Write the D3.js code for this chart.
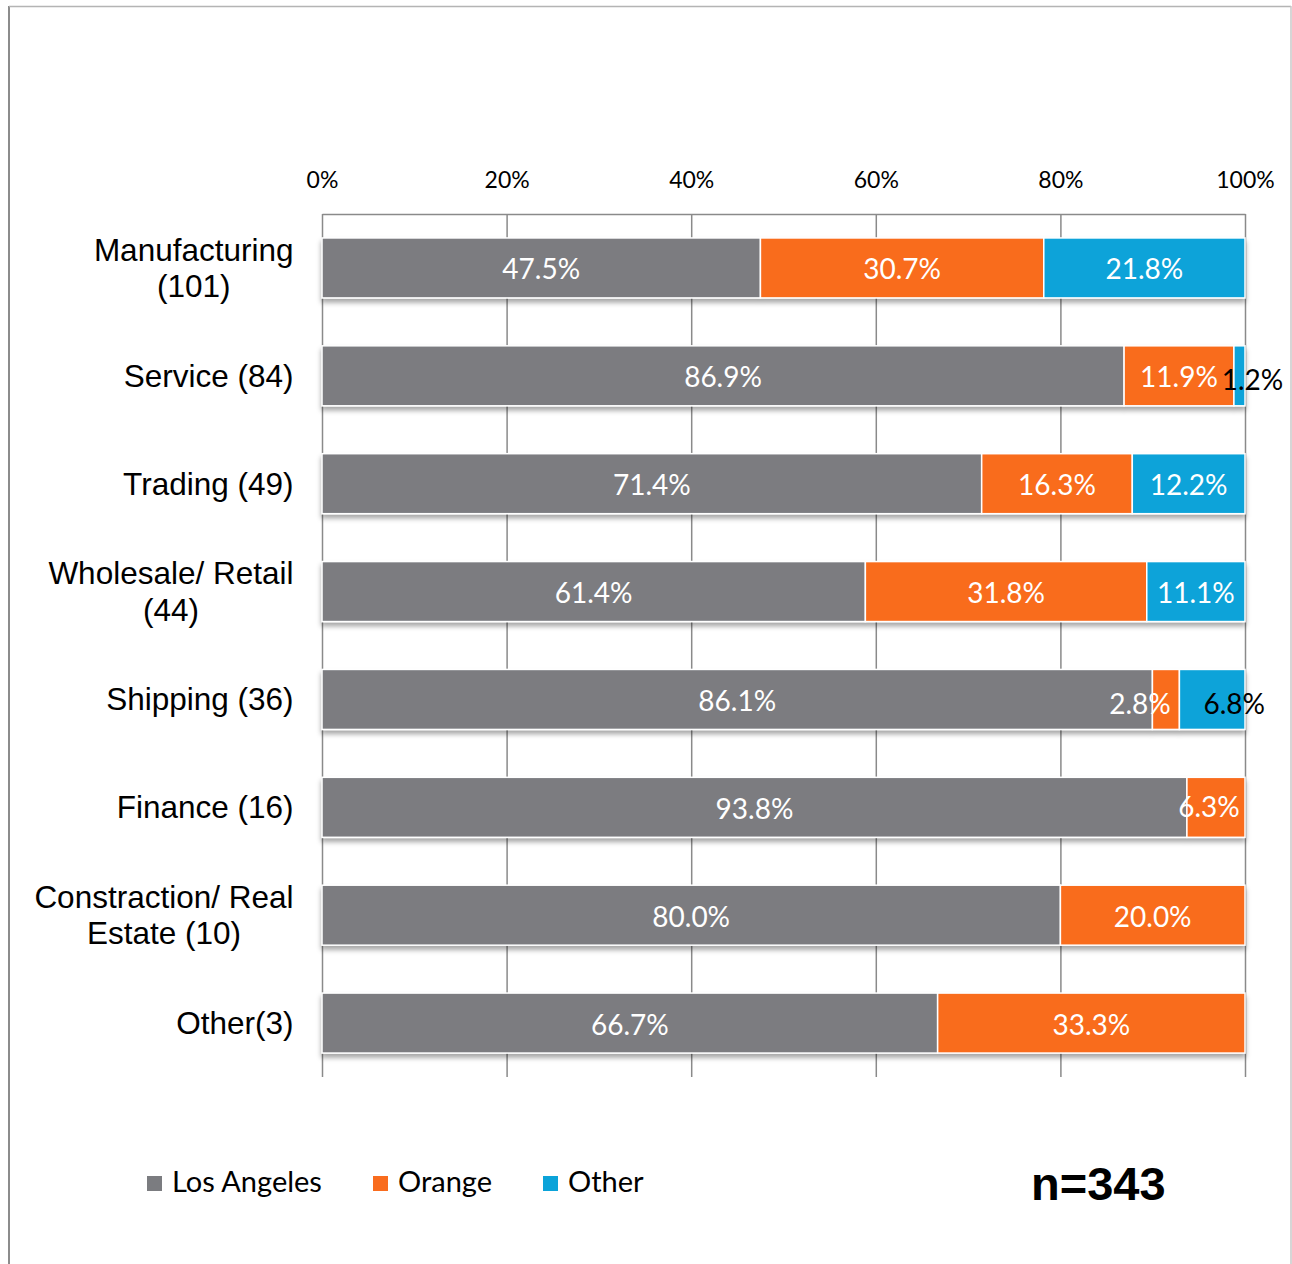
<!DOCTYPE html>
<html>
<head>
<meta charset="utf-8">
<script src="https://cdn.jsdelivr.net/npm/d3@7"></script>
<style>
  body { margin: 0; background: #fff; }
  .tick-label { font-family: Lato, "Open Sans", sans-serif; font-size: 23px; fill: #000; }
  .cat-label { font-family: "Liberation Sans", Arial, sans-serif; font-size: 31.5px; fill: #000; }
  .val-label { font-family: Lato, "Open Sans", sans-serif; font-size: 28px; }
  .legend-label { font-family: Lato, "Open Sans", sans-serif; font-size: 29px; fill: #000; }
</style>
</head>
<body>
<div class="chart"></div>
<script>
// Chart data
const categories = [
  ["Manufacturing", "(101)"],
  ["Service (84)"],
  ["Trading (49)"],
  ["Wholesale/ Retail", "(44)"],
  ["Shipping (36)"],
  ["Finance (16)"],
  ["Constraction/ Real", "Estate (10)"],
  ["Other(3)"]
];
const seriesNames = ["Los Angeles", "Orange", "Other"];
const losAngeles = [47.5, 86.9, 71.4, 61.4, 86.1, 93.8, 80.0, 66.7];
const orange     = [30.7, 11.9, 16.3, 31.8, 2.8, 6.3, 20.0, 33.3];
const other      = [21.8, 1.2, 12.2, 11.1, 6.8, 0, 0, 0];
const tickValues = [0, 0.2, 0.4, 0.6, 0.8, 1];
const sampleLabel = "n=343";

const colors = ["#7b7c80", "#f96c1e", "#0ba3d9"];

// hand-moved data labels (like the original), keyed "row-series"
const labelNudge = {
  "1-2": { dx: 13, dy: 3, fill: "#000" },
  "4-1": { dx: -26, dy: 3 },
  "4-2": { dx: 22, dy: 3, fill: "#000" },
  "5-1": { dx: -7, dy: -2 }
};

const W = 1292, H = 1264;
const plot = { left: 322, right: 1245, top: 214, bottom: 1077 };

const svg = d3.select(".chart")
  .append("svg")
  .attr("width", W)
  .attr("height", H);

// drop shadow under the bars
const defs = svg.append("defs");
const f = defs.append("filter").attr("id", "shadow")
  .attr("x", "-2%").attr("y", "-20%").attr("width", "104%").attr("height", "160%");
f.append("feDropShadow")
  .attr("dx", 0).attr("dy", 4).attr("stdDeviation", 2.5)
  .attr("flood-color", "#000").attr("flood-opacity", 0.35);

// outer frame
svg.append("line").attr("x1", 9).attr("x2", 9).attr("y1", 6).attr("y2", H)
  .attr("stroke", "#8c8c8c").attr("stroke-width", 2);
svg.append("line").attr("x1", 9).attr("x2", 1291).attr("y1", 6.5).attr("y2", 6.5)
  .attr("stroke", "#b4b4b4").attr("stroke-width", 1.5);
svg.append("line").attr("x1", 1291).attr("x2", 1291).attr("y1", 6).attr("y2", H)
  .attr("stroke", "#c8c8c8").attr("stroke-width", 1.5);

// rows as objects for the stack
const rows = categories.map((c, i) => ({
  idx: i,
  "Los Angeles": losAngeles[i],
  "Orange": orange[i],
  "Other": other[i]
}));

const stacked = d3.stack()
  .keys(seriesNames)
  .offset(d3.stackOffsetExpand)(rows);

// scales
const x = d3.scaleLinear().domain([0, 1]).range([plot.left, plot.right]);
const y = d3.scaleBand()
  .domain(d3.range(categories.length))
  .range([plot.top, plot.bottom])
  .paddingInner(0.444)
  .paddingOuter(0.222);

// gridlines + top axis
const xAxis = svg.append("g")
  .attr("transform", `translate(0, ${plot.top})`)
  .call(d3.axisTop(x)
    .tickValues(tickValues)
    .tickFormat(d3.format(".0%"))
    .tickSizeInner(-(plot.bottom - plot.top))
    .tickSizeOuter(0)
    .tickPadding(26));
xAxis.select(".domain").attr("stroke", "#8a8a8a").attr("stroke-width", 1.5);
xAxis.selectAll(".tick line").attr("stroke", "#8a8a8a").attr("stroke-width", 1.5);
xAxis.selectAll(".tick text")
  .attr("class", "tick-label")
  .attr("dy", 0);
xAxis.attr("font-family", null).attr("font-size", null);

// bars
const rowG = svg.append("g").selectAll("g")
  .data(rows)
  .join("g")
  .attr("filter", "url(#shadow)");

rowG.selectAll("rect")
  .data(r => stacked.map((s, si) => ({ si, seg: s[r.idx], row: r.idx })))
  .join("rect")
  .attr("x", d => x(d.seg[0]))
  .attr("width", d => x(d.seg[1]) - x(d.seg[0]))
  .attr("y", d => y(d.row))
  .attr("height", y.bandwidth())
  .attr("fill", d => colors[d.si])
  .attr("stroke", "#fff")
  .attr("stroke-width", 1.5);

// value labels
const valueSeries = [losAngeles, orange, other];
const labels = [];
rows.forEach(r => {
  stacked.forEach((s, si) => {
    const v = valueSeries[si][r.idx];
    if (v > 0) labels.push({ row: r.idx, si, v, seg: s[r.idx] });
  });
});

svg.append("g").selectAll("text")
  .data(labels)
  .join("text")
  .attr("class", "val-label")
  .attr("text-anchor", "middle")
  .attr("x", d => (x(d.seg[0]) + x(d.seg[1])) / 2 + ((labelNudge[d.row + "-" + d.si] || {}).dx || 0))
  .attr("y", d => y(d.row) + y.bandwidth() / 2 + 11.5 + ((labelNudge[d.row + "-" + d.si] || {}).dy || 0))
  .attr("fill", d => (labelNudge[d.row + "-" + d.si] || {}).fill || "#fff")
  .text(d => d.v.toFixed(1) + "%");

// category labels (centered block, right edge at 293)
const catG = svg.append("g");
categories.forEach((lines, i) => {
  const t = catG.append("text")
    .attr("class", "cat-label")
    .attr("text-anchor", "middle");
  const lh = 36.5;
  const cy = y(i) + y.bandwidth() / 2;
  const first = cy + 11 - (lines.length - 1) * lh / 2;
  lines.forEach((ln, k) => {
    t.append("tspan").attr("y", first + k * lh).text(ln);
  });
  let maxW = 0;
  t.selectAll("tspan").each(function() {
    maxW = Math.max(maxW, this.getComputedTextLength());
  });
  t.selectAll("tspan").attr("x", 293.5 - maxW / 2);
});

// legend
const legendX = [147, 373, 543];
const legend = svg.append("g").selectAll("g")
  .data(seriesNames)
  .join("g")
  .attr("transform", (d, i) => `translate(${legendX[i]}, 1176)`);
legend.append("rect")
  .attr("width", 15).attr("height", 15)
  .attr("fill", (d, i) => colors[i]);
legend.append("text")
  .attr("class", "legend-label")
  .attr("x", 25)
  .attr("y", 16)
  .text(d => d);

// sample size
svg.append("text")
  .attr("x", 1031)
  .attr("y", 1200)
  .attr("font-family", "'Liberation Sans', Arial, sans-serif")
  .attr("font-weight", "bold")
  .attr("font-size", 47)
  .text(sampleLabel);
</script>
</body>
</html>
